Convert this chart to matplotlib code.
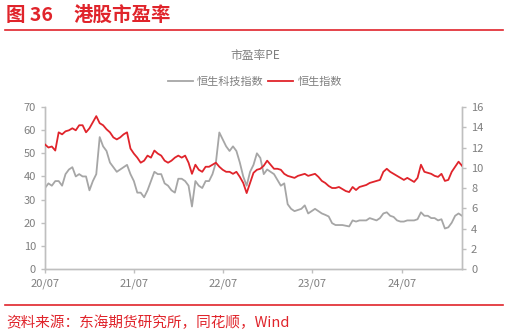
import numpy as np
import pandas as pd
import matplotlib
matplotlib.use("Agg")
import matplotlib.pyplot as plt
import matplotlib.dates as mdates
from matplotlib.lines import Line2D

plt.rcParams['font.family'] = ['Noto Sans CJK SC', 'DejaVu Sans']

RED = "#E0242B"
GRAY = "#A6A6A6"
TEXT_GRAY = "#7F7F7F"

# biweekly sampling, 2020-07 .. 2025-03
dates = pd.date_range("2020-07-01", periods=123, freq="14D")

# 恒生科技指数 PE (left axis)
hstech_pe = [
    35, 37, 36, 38, 38, 36, 41, 43, 44, 40,
    41, 40, 40, 34, 38, 41, 57, 53, 51, 46,
    44, 42, 43, 44, 45, 41, 38, 33, 33, 31,
    34, 38, 42, 41, 41, 37, 36, 34, 33, 39,
    39, 38, 36, 27, 38, 36, 35, 38, 38, 41,
    46, 59, 56, 53, 51, 53, 51, 46, 40, 36,
    42, 45, 50, 48, 41, 43, 42, 41, 38.5, 36,
    37, 28, 26, 25, 25.5, 26, 27.5, 24, 25, 26,
    25, 24, 23.4, 22.7, 19.8, 19, 19, 19, 18.7, 18.4,
    21, 20.5, 21, 21, 21, 22, 21.5, 21, 22, 24,
    24.5, 23, 22.5, 21, 20.5, 20.5, 21, 21, 21, 21.5,
    24.5, 23, 23, 22, 22, 21, 21.5, 17.5, 18, 20,
    23, 24, 23,
]

# 恒生指数 PE (right axis)
hsi_pe = [
    12.3, 12.0, 12.1, 11.7, 13.5, 13.3, 13.6, 13.7, 13.9, 13.7,
    14.2, 14.2, 13.5, 13.9, 14.5, 15.1, 14.4, 14.2, 13.8, 13.5,
    13.0, 12.8, 13.0, 13.3, 13.5, 11.9, 11.4, 11.0, 10.5, 10.7,
    11.2, 11.0, 11.7, 11.4, 11.2, 10.7, 10.5, 10.7, 11.0, 11.2,
    11.0, 11.2, 10.5, 9.4, 10.3, 9.8, 9.6, 10.1, 10.1, 10.3,
    10.5, 10.1, 9.8, 9.6, 9.6, 9.4, 9.6, 9.1, 8.5, 7.5,
    8.5, 9.5, 9.8, 9.9, 10.2, 10.7, 10.3, 9.9, 9.9, 9.8,
    9.4, 9.2, 9.1, 9.0, 9.2, 9.3, 9.4, 9.2, 9.3, 9.4,
    9.1, 8.7, 8.5, 8.2, 8.0, 8.0, 8.1, 7.9, 7.7, 7.6,
    8.1, 7.8, 8.1, 8.2, 8.3, 8.5, 8.6, 8.7, 8.8, 9.6,
    9.9, 9.6, 9.4, 9.2, 9.0, 8.8, 9.0, 8.8, 8.6, 9.0,
    10.3, 9.6, 9.5, 9.4, 9.2, 9.1, 9.4, 8.7, 8.8, 9.6,
    10.1, 10.6, 10.2,
]

xtick_labels = ["20/07", "21/07", "22/07", "23/07", "24/07"]
xtick_dates = pd.to_datetime(["2020-07-01", "2021-07-01", "2022-07-01", "2023-07-01", "2024-07-01"])

fig = plt.figure(figsize=(5.08, 3.36), dpi=100)
ax = fig.add_axes([0.0886, 0.1994, 0.8208, 0.4821])
ax2 = ax.twinx()

ax.plot(dates, hstech_pe, color=GRAY, lw=1.3, zorder=2)
ax2.plot(dates, hsi_pe, color=RED, lw=1.3, zorder=3)

ax.set_ylim(0, 70)
ax.set_yticks(range(0, 71, 10))
ax2.set_ylim(0, 16)
ax2.set_yticks(range(0, 17, 2))
ax.set_xlim(dates[0], dates[-1])
ax.set_xticks(xtick_dates)
ax.set_xticklabels(xtick_labels)

for a in (ax, ax2):
    for side in ("top",):
        a.spines[side].set_visible(False)
    for side in ("left", "right", "bottom"):
        a.spines[side].set_color("#BFBFBF")
        a.spines[side].set_linewidth(1.0)
    a.tick_params(colors="#BFBFBF", labelcolor=TEXT_GRAY, labelsize=8, length=3, width=1)
ax.tick_params(axis="x", pad=4)

# titles and legend
fig.text(0.012, 0.955, "图 36", color=RED, fontsize=14, fontweight="bold", va="center")
fig.text(0.145, 0.955, "港股市盈率", color=RED, fontsize=14, fontweight="bold", va="center")
fig.add_artist(Line2D([0.01, 0.99], [0.912, 0.912], color=RED, lw=1.2))
fig.text(0.502, 0.835, "市盈率PE", color=TEXT_GRAY, fontsize=8.5, ha="center", va="center")

handles = [Line2D([], [], color=GRAY, lw=1.3), Line2D([], [], color=RED, lw=1.3)]
fig.legend(handles, ["恒生科技指数", "恒生指数"], loc="center", bbox_to_anchor=(0.502, 0.757),
           ncol=2, frameon=False, fontsize=8, labelcolor=TEXT_GRAY,
           handlelength=2.2, handletextpad=0.4, columnspacing=0.4)

fig.add_artist(Line2D([0.01, 0.99], [0.093, 0.093], color=RED, lw=1.2))
fig.text(0.012, 0.04, "资料来源：东海期货研究所，同花顺，Wind", color=RED, fontsize=10.5, va="center")

fig.savefig("out.png", dpi=100)
